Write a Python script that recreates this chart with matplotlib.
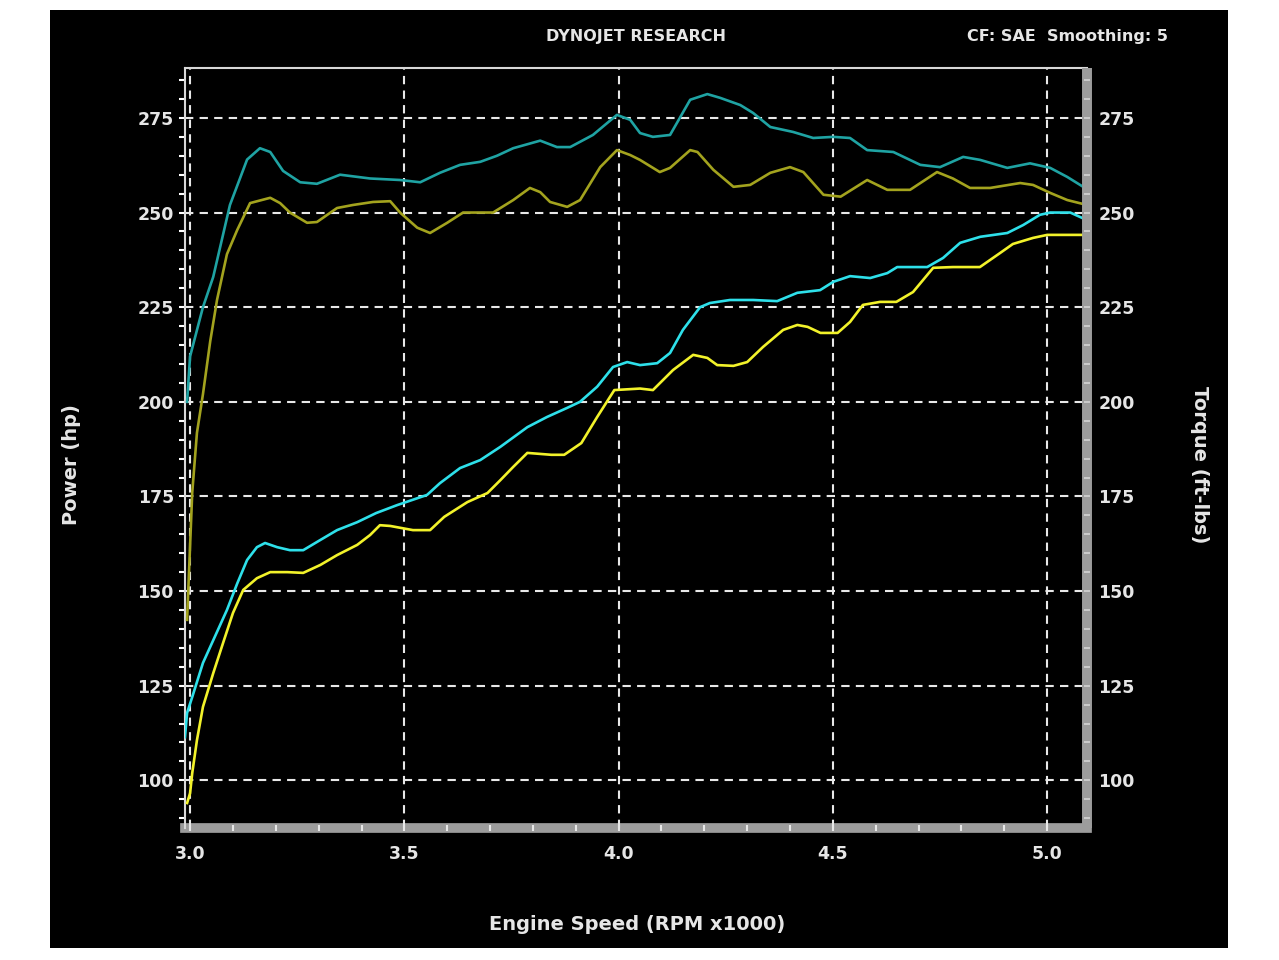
"""Dynojet power / torque run chart."""

import matplotlib
matplotlib.use("Agg")
import matplotlib.pyplot as plt
from matplotlib.patches import Rectangle
from matplotlib.ticker import MultipleLocator

# Torque-style upper curves (teal = run A, olive = run B)
teal_rpm = [2.993, 3.000, 3.030, 3.054, 3.093, 3.133, 3.163, 3.187, 3.217, 3.257,
            3.296, 3.350, 3.420, 3.490, 3.537, 3.583, 3.630, 3.677, 3.716, 3.754,
            3.817, 3.856, 3.887, 3.940, 3.996, 4.027, 4.050, 4.080, 4.120, 4.167,
            4.207, 4.237, 4.284, 4.314, 4.354, 4.407, 4.454, 4.501, 4.540, 4.580,
            4.641, 4.704, 4.750, 4.804, 4.844, 4.907, 4.960, 5.007, 5.047, 5.084]
teal_val = [200.0, 212.0, 225.0, 233.0, 252.0, 264.0, 267.0, 266.0, 261.0, 258.0,
            257.6, 260.0, 259.0, 258.6, 258.0, 260.5, 262.6, 263.4, 265.0, 267.0,
            269.0, 267.3, 267.3, 270.5, 275.8, 274.5, 271.0, 270.0, 270.5, 279.8,
            281.3, 280.3, 278.4, 276.3, 272.6, 271.3, 269.7, 270.0, 269.7, 266.5,
            266.0, 262.6, 262.0, 264.7, 263.9, 261.8, 263.0, 261.8, 259.4, 256.8]

olive_rpm = [2.993, 3.005, 3.016, 3.030, 3.047, 3.063, 3.086, 3.110, 3.140, 3.187,
             3.210, 3.233, 3.273, 3.296, 3.343, 3.380, 3.427, 3.467, 3.490, 3.530,
             3.560, 3.600, 3.637, 3.707, 3.754, 3.793, 3.817, 3.840, 3.880, 3.910,
             3.957, 3.996, 4.027, 4.050, 4.096, 4.120, 4.167, 4.184, 4.221, 4.268,
             4.307, 4.354, 4.400, 4.431, 4.478, 4.518, 4.580, 4.627, 4.680, 4.743,
             4.780, 4.820, 4.867, 4.937, 4.967, 5.007, 5.047, 5.093]
olive_val = [142.4, 176.0, 191.8, 202.0, 216.0, 227.0, 239.0, 245.4, 252.5, 253.9,
             252.5, 250.0, 247.3, 247.5, 251.2, 252.0, 252.8, 253.0, 250.0, 246.0,
             244.6, 247.3, 250.0, 250.0, 253.3, 256.5, 255.4, 252.8, 251.5, 253.3,
             262.0, 266.5, 265.2, 263.9, 260.7, 261.8, 266.5, 266.0, 261.3, 256.8,
             257.3, 260.5, 262.0, 260.7, 254.7, 254.2, 258.6, 256.0, 256.0, 260.7,
             259.0, 256.5, 256.5, 257.8, 257.3, 255.2, 253.3, 252.0]

# Power-style rising curves (cyan = run A, yellow = run B)
cyan_rpm = [2.988, 2.993, 3.005, 3.030, 3.054, 3.086, 3.110, 3.133, 3.156, 3.175,
            3.203, 3.233, 3.264, 3.304, 3.343, 3.390, 3.434, 3.483, 3.553, 3.583,
            3.630, 3.677, 3.724, 3.787, 3.833, 3.880, 3.910, 3.950, 3.987, 4.020,
            4.050, 4.090, 4.120, 4.150, 4.190, 4.213, 4.260, 4.314, 4.370, 4.417,
            4.470, 4.501, 4.540, 4.587, 4.627, 4.650, 4.720, 4.757, 4.797, 4.844,
            4.907, 4.944, 4.983, 5.007, 5.054, 5.093]
cyan_val = [111.4, 117.8, 122.0, 131.0, 137.0, 145.0, 152.0, 158.2, 161.6, 162.7,
            161.6, 160.8, 160.8, 163.5, 166.1, 168.2, 170.6, 172.7, 175.4, 178.5,
            182.5, 184.6, 188.1, 193.3, 196.0, 198.4, 200.0, 204.0, 209.2, 210.5,
            209.7, 210.2, 212.9, 219.0, 225.0, 226.1, 226.9, 226.9, 226.6, 228.8,
            229.5, 231.7, 233.2, 232.7, 234.0, 235.6, 235.6, 238.0, 242.0, 243.6,
            244.6, 246.7, 249.4, 250.0, 250.0, 248.0]

yellow_rpm = [2.993, 3.000, 3.005, 3.016, 3.030, 3.054, 3.077, 3.100, 3.124, 3.156,
              3.187, 3.227, 3.264, 3.304, 3.343, 3.390, 3.420, 3.443, 3.467, 3.520,
              3.560, 3.593, 3.647, 3.694, 3.724, 3.754, 3.787, 3.843, 3.873, 3.913,
              3.950, 3.990, 4.050, 4.080, 4.127, 4.174, 4.207, 4.230, 4.268, 4.300,
              4.337, 4.384, 4.417, 4.441, 4.471, 4.511, 4.540, 4.570, 4.610, 4.648,
              4.687, 4.734, 4.780, 4.843, 4.890, 4.920, 4.967, 5.000, 5.093]
yellow_val = [94.0, 96.6, 101.9, 110.6, 119.4, 128.3, 136.3, 144.2, 150.3, 153.4,
              155.0, 155.0, 154.8, 156.9, 159.5, 162.2, 164.8, 167.4, 167.2, 166.1,
              166.1, 169.6, 173.5, 175.9, 179.3, 182.8, 186.5, 186.0, 186.0, 189.1,
              196.0, 203.1, 203.5, 203.1, 208.4, 212.4, 211.6, 209.7, 209.5, 210.5,
              214.5, 219.0, 220.3, 219.8, 218.2, 218.2, 221.1, 225.6, 226.4, 226.4,
              229.0, 235.4, 235.6, 235.6, 239.3, 241.7, 243.3, 244.1, 244.1]

y_ticks = [100, 125, 150, 175, 200, 225, 250, 275]
x_ticks = [3.0, 3.5, 4.0, 4.5, 5.0]

TXT = "#e6e6e6"
BAR = "#9c9c9c"

fig = plt.figure(figsize=(12.79, 9.6), dpi=100, facecolor="white")
fig.add_artist(Rectangle((0.039, 0.0125), 0.921, 0.977, transform=fig.transFigure,
                         facecolor="black", edgecolor="none", zorder=-10))

ax = fig.add_axes([0.1446, 0.1375, 0.7053, 0.7917])
ax.set_facecolor("black")
ax.set_xlim(2.988, 5.093)
ax.set_ylim(87.4, 288.2)

ax.plot(olive_rpm, olive_val, color="#a3a31e", lw=1.9, zorder=3)
ax.plot(teal_rpm, teal_val, color="#1fa3a3", lw=1.9, zorder=3)
ax.plot(yellow_rpm, yellow_val, color="#f2f22a", lw=1.9, zorder=4)
ax.plot(cyan_rpm, cyan_val, color="#2ee0ea", lw=1.9, zorder=4)

ax.set_xticks(x_ticks)
ax.set_xticklabels([f"{v:.1f}" for v in x_ticks])
ax.xaxis.set_minor_locator(MultipleLocator(0.1))
ax.set_yticks(y_ticks)
ax.yaxis.set_minor_locator(MultipleLocator(5))
ax.grid(True, which="major", color="#e8e8e8", linestyle=(0, (4, 3)), lw=1.5, zorder=2)

for side in ["top", "left"]:
    ax.spines[side].set_color("#d8d8d8")
    ax.spines[side].set_linewidth(1.5)
for side in ["bottom", "right"]:
    ax.spines[side].set_color(BAR)
    ax.spines[side].set_linewidth(7)
    ax.spines[side].set_capstyle("butt")
    ax.spines[side].set_zorder(1)
ax.spines["bottom"].set_capstyle("projecting")

ax.tick_params(axis="x", which="both", direction="inout", length=4, width=1.5,
               color="#e8e8e8", labelcolor=TXT, labelsize=12.5, pad=10)
ax.tick_params(axis="y", which="both", direction="out", length=4, width=1.5,
               color="white", labelcolor=TXT, labelsize=12.5, pad=4)
for lab in ax.get_xticklabels() + ax.get_yticklabels():
    lab.set_fontweight("bold")

ax2 = ax.twinx()
ax2.set_ylim(ax.get_ylim())
ax2.set_yticks(y_ticks)
ax2.yaxis.set_minor_locator(MultipleLocator(5))
ax2.tick_params(axis="y", which="both", direction="inout", length=4, width=1.3,
                color="#d0d0d0", labelcolor=TXT, labelsize=12.5, pad=6)
for lab in ax2.get_yticklabels():
    lab.set_fontweight("bold")
for side in ["top", "left", "bottom"]:
    ax2.spines[side].set_visible(False)
ax2.spines["right"].set_color(BAR)
ax2.spines["right"].set_linewidth(7)
ax2.spines["right"].set_capstyle("butt")
ax2.spines["right"].set_zorder(1)

fig.text(0.497, 0.9615, "DYNOJET RESEARCH", color=TXT, fontsize=11.5,
         fontweight="bold", ha="center", va="center")
fig.text(0.913, 0.9615, "CF: SAE  Smoothing: 5", color=TXT, fontsize=11.5,
         fontweight="bold", ha="right", va="center")
fig.text(0.498, 0.0375, "Engine Speed (RPM x1000)", color=TXT, fontsize=14,
         fontweight="bold", ha="center", va="center")
fig.text(0.056, 0.516, "Power (hp)", color=TXT, fontsize=14, fontweight="bold",
         rotation=90, ha="center", va="center")
fig.text(0.938, 0.516, "Torque (ft-lbs)", color=TXT, fontsize=14, fontweight="bold",
         rotation=270, ha="center", va="center")

fig.savefig("out.png", dpi=100, facecolor="white")
